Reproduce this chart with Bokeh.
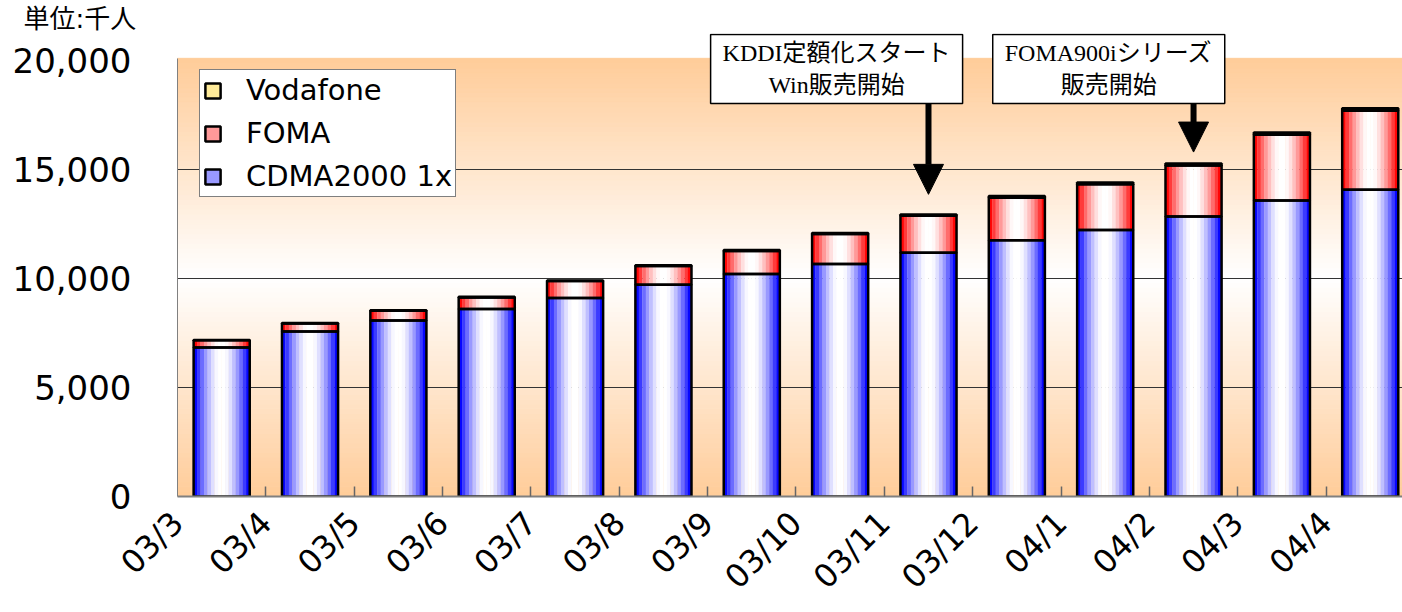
import numpy as np
from math import pi
from bokeh.plotting import figure
from bokeh.models import (Range1d, FixedTicker, NumeralTickFormatter, Legend, LegendItem,
                          Label, Arrow, NormalHead, LinearAxis, Grid)
from bokeh.embed import file_html
from bokeh.resources import INLINE

# ---------------- data ----------------
months = ["03/3", "03/4", "03/5", "03/6", "03/7", "03/8", "03/9",
          "03/10", "03/11", "03/12", "04/1", "04/2", "04/3", "04/4"]
cdma2000 = [6830, 7570, 8070, 8600, 9110, 9710, 10210,
            10670, 11180, 11760, 12230, 12850, 13580, 14070]
foma = [340, 370, 450, 530, 770, 860, 1050,
        1370, 1700, 1950, 2090, 2330, 3020, 3620]
vodafone = [12, 17, 22, 28, 33, 38, 45, 52, 61, 72, 80, 91, 102, 115]
y_ticks = [0, 5000, 10000, 15000, 20000]
unit_label = "単位:千人"
notes = ["KDDI定額化スタート\nWin販売開始", "FOMA900iシリーズ\n販売開始"]
note_months = ["03/11", "04/2"]

# ---------------- helpers ----------------
def hex2rgb(h):
    h = h.lstrip("#")
    return tuple(int(h[i:i + 2], 16) for i in (0, 2, 4))

def mix_white(base, g):
    r, gg, b = hex2rgb(base)
    c = [int(round(255 + (v - 255) * g)) for v in (r, gg, b)]
    return "#%02x%02x%02x" % tuple(c)

n = len(months)
xc = np.arange(n) + 0.5
c_arr = np.array(cdma2000, float)
f_arr = np.array(foma, float)
v_arr = np.array(vodafone, float)
b0 = np.zeros(n)
b1 = c_arr
b2 = b1 + f_arr
b3 = b2 + v_arr

PLOT_TOP = 20100      # top of the shaded plot area
Y_END = 21239         # extra room above for the callout boxes
p = figure(width=1402, height=612,
           x_range=Range1d(0, 13.865), y_range=Range1d(0, Y_END),
           output_backend="svg", toolbar_location=None,
           x_axis_type=None, y_axis_type=None,
           min_border_left=177, min_border_right=0,
           min_border_top=33, min_border_bottom=116)
p.outline_line_color = None
p.background_fill_color = "white"
p.border_fill_color = "white"

p.title.text = unit_label
p.title.align = "left"
p.title.offset = -154
p.title.standoff = 0
p.title.text_font = "DejaVu Sans, Noto Sans CJK JP"
p.title.text_font_size = "26px"
p.title.text_font_style = "normal"
p.title.text_color = "black"

# ---------------- background gradient ----------------
nb = 90
edges = np.linspace(0, PLOT_TOP, nb + 1)
mid = PLOT_TOP / 2
bg_cols = []
for i in range(nb):
    yc = (edges[i] + edges[i + 1]) / 2
    t = abs(yc - mid) / mid
    bg_cols.append(mix_white("#FFCC99", t))
p.quad(left=-1, right=16, bottom=edges[:-1], top=edges[1:],
       fill_color=bg_cols, line_color=bg_cols, line_width=1, level="image")

# ---------------- grid ----------------
p.add_layout(Grid(dimension=1, ticker=FixedTicker(ticks=[5000, 10000, 15000]),
                  grid_line_color="#333333", grid_line_width=1.2))

# ---------------- bars ----------------
W = 0.635
NS = 16
sw = W / NS
series = [("#0000FF", b0, b1), ("#FF0000", b1, b2), ("#FFCC00", b2, b3)]
swatch_r = {}
for k in range(NS):
    off = -W / 2 + (k + 0.5) * sw
    u = abs((k + 0.5) / NS * 2 - 1)
    g = min(max((u - 0.1) / 0.85, 0), 1) ** 1.5
    for base, bot, top in series:
        col = mix_white(base, g)
        r = p.vbar(x=xc + off, width=sw * 1.06, bottom=bot, top=top,
                   fill_color=col, line_color=None)
        if k == 3:
            swatch_r[base] = r

outlines = {}
for base, bot, top in series:
    outlines[base] = p.vbar(x=xc, width=W, bottom=bot, top=top,
                            fill_color=None, line_color="black", line_width=2.5)

# ---------------- axes ----------------
yaxis = LinearAxis(ticker=FixedTicker(ticks=y_ticks),
                   formatter=NumeralTickFormatter(format="0,0"),
                   bounds=(0, PLOT_TOP),
                   major_label_text_font="DejaVu Sans",
                   major_label_text_font_size="34px",
                   major_label_text_color="black",
                   major_tick_out=0, major_tick_in=0,
                   minor_tick_line_color=None,
                   axis_line_color="#808080", axis_line_width=1,
                   major_label_standoff=46)
p.add_layout(yaxis, "left")

label_ticks = [float(v) for v in (xc - 0.5)]
xaxis = LinearAxis(ticker=FixedTicker(ticks=label_ticks,
                                      minor_ticks=[float(v) for v in range(1, n)]),
                   major_label_overrides={t: m for t, m in zip(label_ticks, months)},
                   major_label_orientation=pi / 4,
                   major_label_standoff=21,
                   major_label_text_font="DejaVu Sans",
                   major_label_text_font_size="32px",
                   major_label_text_color="black",
                   major_tick_line_color=None, major_tick_out=0, major_tick_in=0,
                   minor_tick_in=10, minor_tick_out=0,
                   minor_tick_line_color="#666666", minor_tick_line_width=1.5,
                   axis_line_color="#808080", axis_line_width=2)
p.add_layout(xaxis, "below")

# ---------------- legend ----------------
legend = Legend(items=[
    LegendItem(label="Vodafone", renderers=[swatch_r["#FFCC00"], outlines["#FFCC00"]]),
    LegendItem(label="FOMA", renderers=[swatch_r["#FF0000"], outlines["#FF0000"]]),
    LegendItem(label="CDMA2000 1x", renderers=[swatch_r["#0000FF"], outlines["#0000FF"]]),
], location=(22, 299), orientation="vertical",
    label_text_font="DejaVu Sans", label_text_font_size="29px", label_text_color="black",
    glyph_width=19, glyph_height=19, label_standoff=24,
    label_height=30, spacing=9, padding=3, margin=0,
    border_line_color="black", border_line_width=1.5,
    background_fill_color="white", background_fill_alpha=1.0)
p.add_layout(legend)

# ---------------- annotations ----------------
arrow_tips = [13860, 15800]
box_x = [7.46, 10.54]
for m, tip in zip(note_months, arrow_tips):
    xi = months.index(m) + 0.5
    p.add_layout(Arrow(end=NormalHead(size=30, fill_color="black", line_color="black"),
                       x_start=xi, y_start=18400, x_end=xi, y_end=tip,
                       line_color="black", line_width=6))

for txt, bx in zip(notes, box_x):
    p.add_layout(Label(x=bx, y=19610, text=txt, text_align="center", text_baseline="middle",
                       text_font="Liberation Serif, Noto Sans CJK JP", text_font_size="24px",
                       text_color="black", text_line_height=1.2,
                       border_line_color="black", border_line_width=1.5,
                       background_fill_color="white", background_fill_alpha=1.0,
                       padding=dict(left=12, right=12, top=6, bottom=6)))

open("out.html", "w").write(file_html(p, INLINE))
